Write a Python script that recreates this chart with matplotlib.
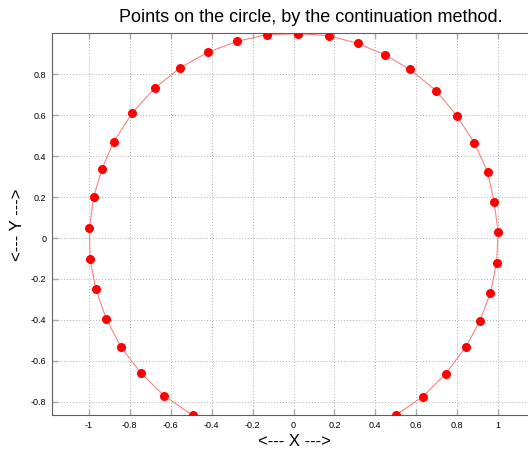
import numpy as np
import matplotlib
matplotlib.use("Agg")
import matplotlib.pyplot as plt

# points, in the order they were traced
x_pts = [0.501, 0.632, 0.744, 0.842, 0.912, 0.962, 0.992, 1.000, 0.980, 0.948,
         0.884, 0.798, 0.697, 0.568, 0.446, 0.314, 0.172, 0.022, -0.131, -0.276,
         -0.420, -0.555, -0.679, -0.788, -0.879, -0.936, -0.977, -0.997, -0.994,
         -0.966, -0.915, -0.844, -0.747, -0.633, -0.493]
y_pts = [-0.866, -0.776, -0.664, -0.532, -0.404, -0.268, -0.124, 0.028, 0.178, 0.324,
         0.465, 0.598, 0.721, 0.825, 0.897, 0.952, 0.990, 1.000, 0.995, 0.962,
         0.908, 0.832, 0.732, 0.612, 0.470, 0.338, 0.199, 0.047, -0.101,
         -0.250, -0.395, -0.532, -0.659, -0.771, -0.867]
x_ticks = [-1, -0.8, -0.6, -0.4, -0.2, 0, 0.2, 0.4, 0.6, 0.8, 1]
y_ticks = [-0.8, -0.6, -0.4, -0.2, 0, 0.2, 0.4, 0.6, 0.8]

plt.rcParams["font.family"] = ["Liberation Sans", "DejaVu Sans"]

fig = plt.figure(figsize=(5.28, 4.5), dpi=100)
ax = fig.add_axes([52 / 528, 35 / 450, 483 / 528, 382 / 450])

ax.plot(x_pts, y_pts, color="#ff8080", linewidth=0.8, zorder=2)
ax.plot(x_pts, y_pts, "o", color="red", markersize=6.5, markeredgewidth=0, zorder=3)

ax.set_xlim(-1.18, 1.18)
ax.set_ylim(-0.866, 1.003)
ax.set_xticks(x_ticks)
ax.set_xticklabels([f"{t:g}" for t in x_ticks])
ax.set_yticks(y_ticks)
ax.set_yticklabels([f"{t:g}" for t in y_ticks])
ax.tick_params(direction="in", length=4, width=1.0, labelsize=6.5, pad=4,
               top=True, right=False, colors="#a8a8a8", labelcolor="black")
ax.grid(True, color="#b0b0b0", linestyle=(0, (1, 2)), linewidth=0.7)
for s in ax.spines.values():
    s.set_color("#606060")
    s.set_linewidth(0.8)
ax.spines["right"].set_visible(False)

fig.text(311 / 528, 1 - 18 / 450, "Points on the circle, by the continuation method.",
         ha="center", va="center", fontsize=13)
fig.text(294 / 528, 1 - 441 / 450, "<--- X --->", ha="center", va="center", fontsize=12)
fig.text(18 / 528, 1 - 225 / 450, "<--- Y --->", ha="center", va="center",
         fontsize=12, rotation=90)

fig.savefig("out.png", dpi=100)
